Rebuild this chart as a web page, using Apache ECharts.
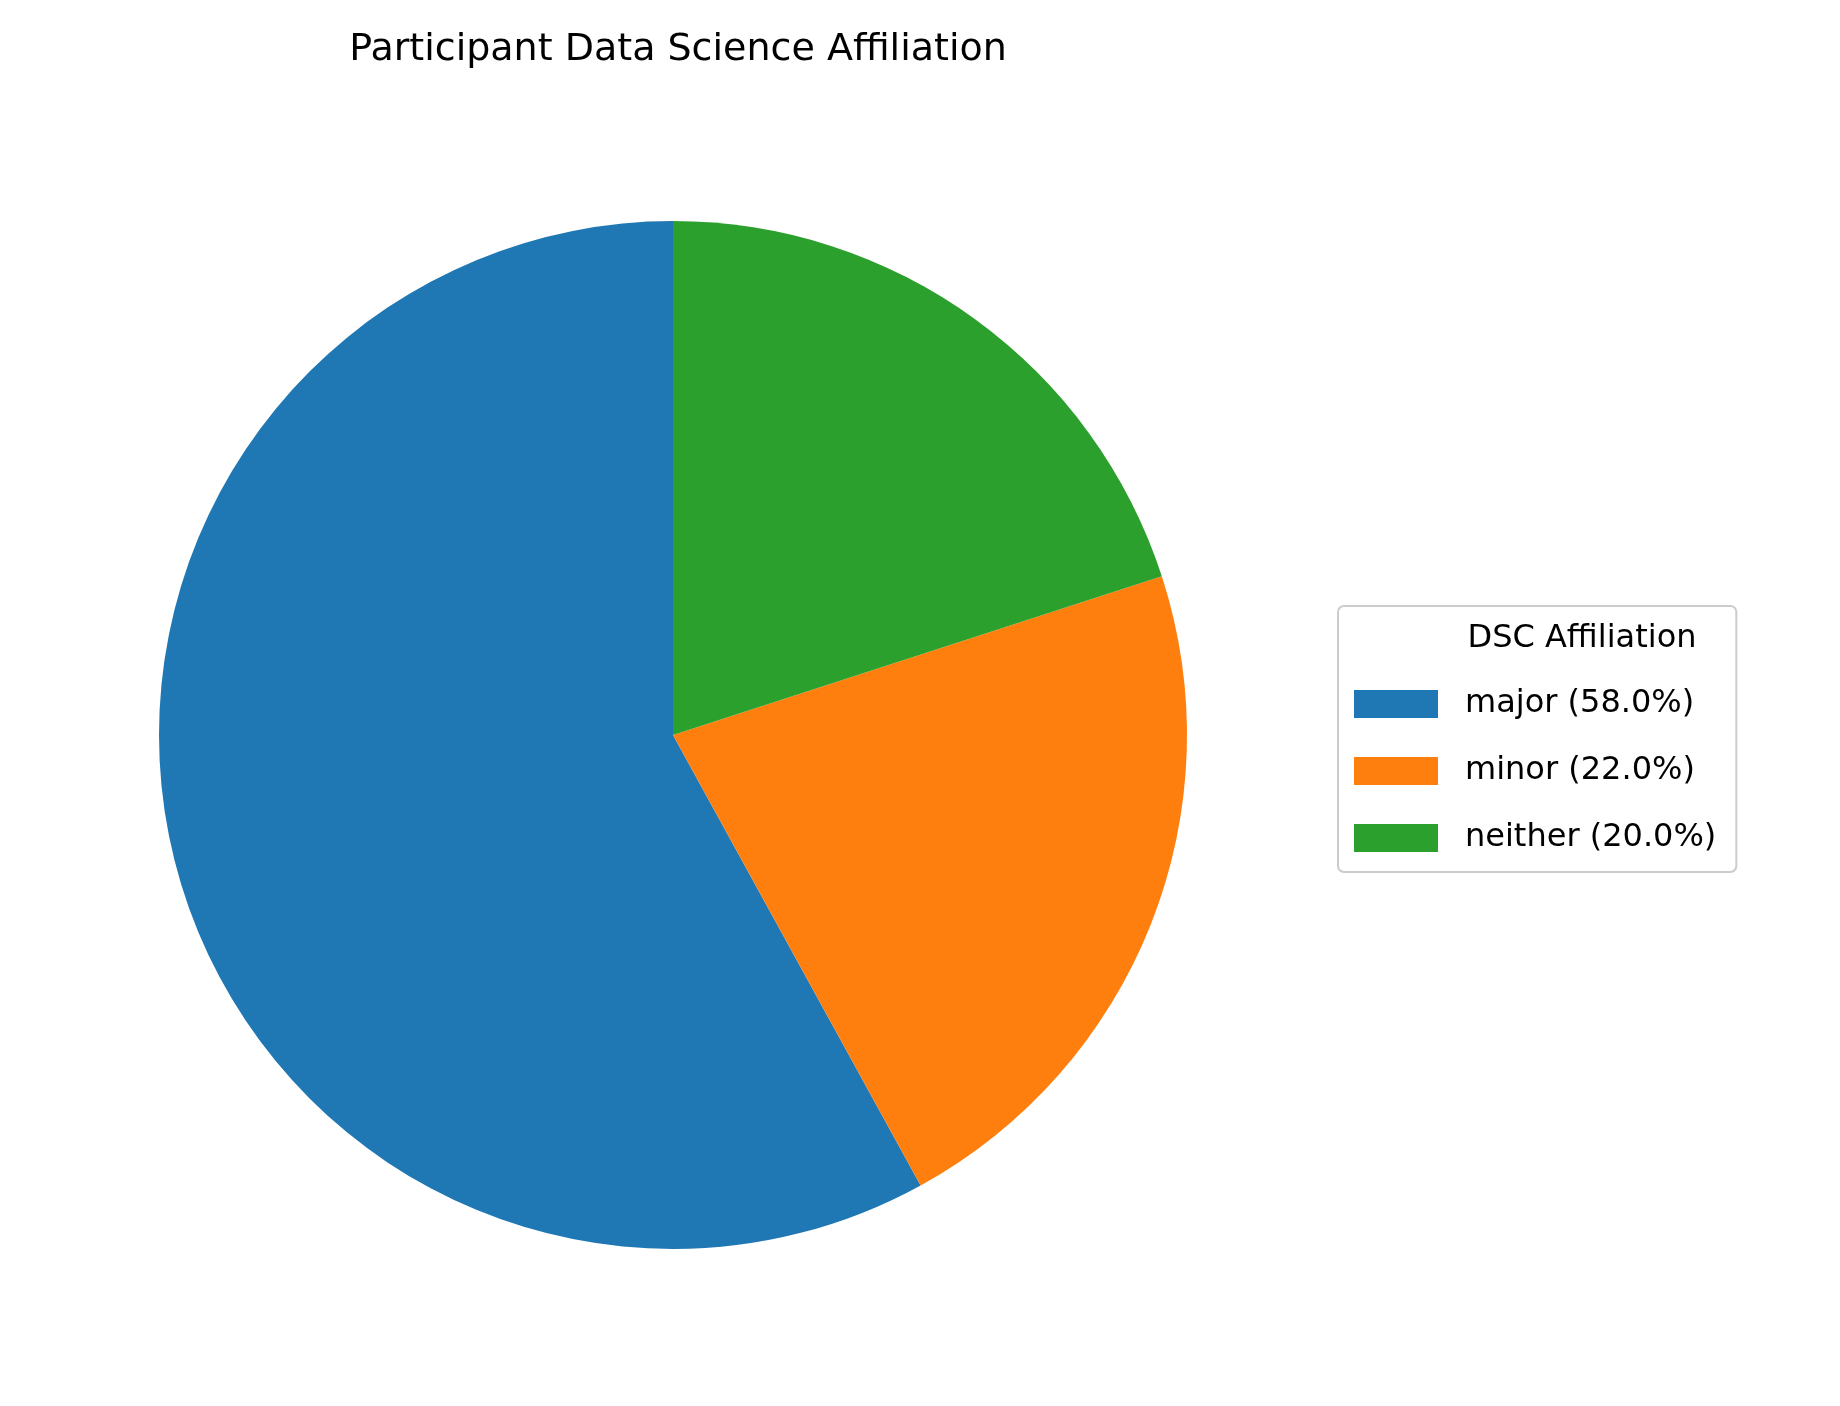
<!DOCTYPE html>
<html><head><meta charset="utf-8">
<script src="https://cdn.jsdelivr.net/npm/echarts@6/dist/echarts.min.js"></script>
<style>html,body{margin:0;padding:0;background:#fff}#c{width:1840px;height:1406px}</style>
</head><body><div id="c"></div>
<script>
const categories = ['major', 'minor', 'neither'];
const values = [58, 22, 20];
const colors = ['#1f77b4', '#ff7f0e', '#2ca02c'];
const total = values.reduce((a, b) => a + b, 0);
const font = 'DejaVu Sans';
const chart = echarts.init(document.getElementById('c'));
chart.setOption({
  animation: false,
  title: [
    { text: 'Participant Data Science Affiliation', left: 673, top: 26, textAlign: 'center',
      textStyle: { fontFamily: font, fontSize: 38, fontWeight: 'normal', color: '#000' } },
    { text: 'DSC Affiliation', left: 1577, top: 618, textAlign: 'center',
      textStyle: { fontFamily: font, fontSize: 32, fontWeight: 'normal', color: '#000' } }
  ],
  legend: {
    orient: 'vertical', left: 1338, top: 606,
    padding: [82, 20, 18, 16],
    borderColor: '#cccccc', borderWidth: 2, borderRadius: 6,
    itemWidth: 84, itemHeight: 28, itemGap: 35,
    icon: 'rect',
    textStyle: { fontFamily: font, fontSize: 32, color: '#000', padding: [0, 0, 0, 22] },
    formatter: name => {
      const i = categories.indexOf(name);
      return name + ' (' + (values[i] / total * 100).toFixed(1) + '%)';
    },
    data: categories
  },
  series: [{
    type: 'pie', center: [673, 735], radius: 514,
    startAngle: 90, clockwise: false,
    label: { show: false }, labelLine: { show: false },
    itemStyle: { borderWidth: 0 },
    emphasis: { disabled: true },
    data: categories.map((c, i) => ({ name: c, value: values[i], itemStyle: { color: colors[i] } }))
  }]
});
</script></body></html>
